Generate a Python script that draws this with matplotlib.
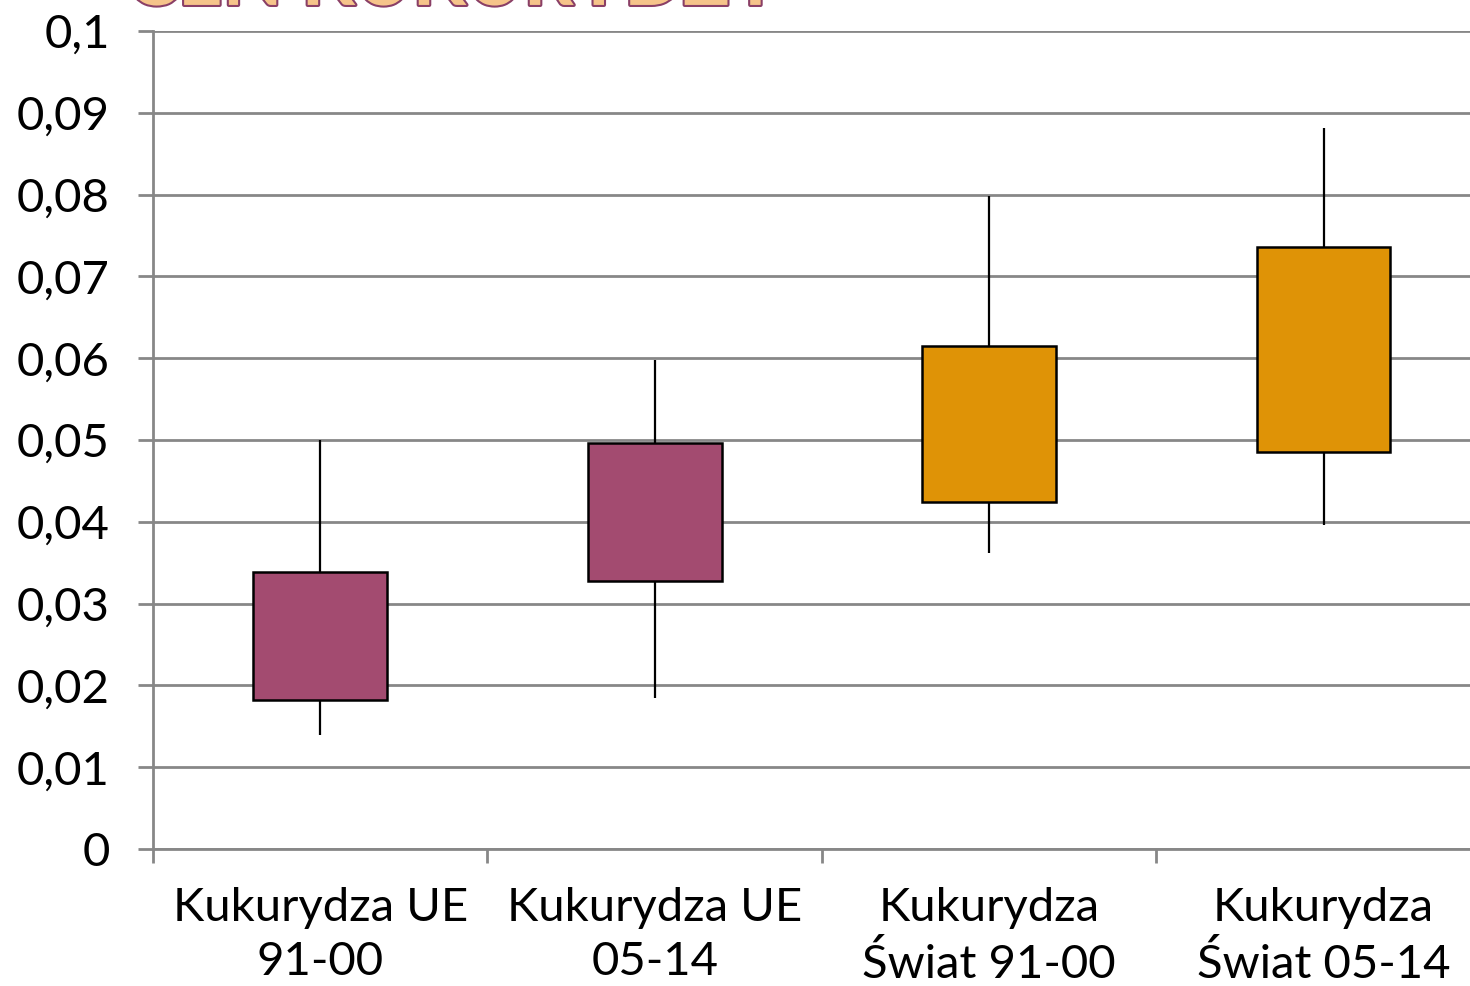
import numpy as np
import matplotlib.pyplot as plt
import matplotlib.patheffects as pe

plt.rcParams['font.family'] = ['Lato', 'DejaVu Sans']

# dane: minimum, dolny kwartyl, górny kwartyl, maksimum
kategorie = ['Kukurydza UE\n91-00', 'Kukurydza UE\n05-14',
             'Kukurydza\nŚwiat 91-00', 'Kukurydza\nŚwiat 05-14']
minimum = [0.0139, 0.0185, 0.0362, 0.0396]
q_dol = [0.0182, 0.0328, 0.0424, 0.0485]
q_gora = [0.0339, 0.0496, 0.0615, 0.0736]
maksimum = [0.0500, 0.0598, 0.0798, 0.0881]
kolory = ['#A34B70', '#A34B70', '#DF9306', '#DF9306']
y_ticki = [0, 0.01, 0.02, 0.03, 0.04, 0.05, 0.06, 0.07, 0.08, 0.09, 0.1]

fig = plt.figure(figsize=(14.7, 9.86), dpi=100)
ax = fig.add_axes([0.1041, 0.1389, 0.910, 0.8296])

x = np.arange(len(kategorie))
ax.vlines(x, minimum, maksimum, color='black', lw=1.6, zorder=2)
ax.bar(x, np.array(q_gora) - np.array(q_dol), bottom=q_dol, width=0.4,
       color=kolory, edgecolor='black', lw=1.8, zorder=3)

ax.set_xlim(-0.5, 3.5)
ax.set_ylim(0, 0.1)
ax.set_yticks(y_ticki)
ax.set_yticklabels([f'{v:g}'.replace('.', ',') for v in y_ticki])
ax.yaxis.grid(True, color='#878787', lw=2)
ax.set_axisbelow(True)

# etykiety kategorii na środku, ticki na granicach
ax.set_xticks(x)
ax.set_xticklabels(kategorie, fontsize=34, linespacing=1.38)
ax.tick_params(axis='x', length=0, pad=27)
ax.set_xticks(np.arange(-0.5, 3.5, 1), minor=True)
ax.tick_params(axis='x', which='minor', length=10, width=2, color='#878787')
ax.tick_params(axis='y', labelsize=34, length=11, width=2, color='#878787', pad=20)

for s in ['top', 'right']:
    ax.spines[s].set_visible(False)
for s in ['left', 'bottom']:
    ax.spines[s].set_color('#878787')
    ax.spines[s].set_linewidth(2)

# ucięty tytuł slajdu
fig.text(0.086, 0.995, 'CEN KUKURYDZY', fontsize=56, color='#F6C48A',
         fontweight='bold', va='baseline',
         path_effects=[pe.withStroke(linewidth=3, foreground='#8A3F66')])

fig.savefig('out.png', dpi=100)
